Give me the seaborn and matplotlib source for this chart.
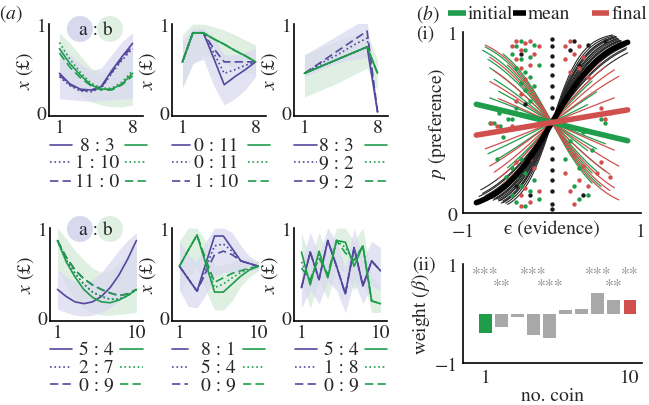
import numpy as np
import matplotlib
matplotlib.use("Agg")
import matplotlib.pyplot as plt
import seaborn as sns
from matplotlib.patches import Circle

# ---------------- data: panel (a) ----------------
x8 = [1, 2, 3, 4, 5, 6, 7, 8]
x10 = [1, 2, 3, 4, 5, 6, 7, 8, 9, 10]

# top-left
a1_p_solid = [0.44, 0.32, 0.26, 0.25, 0.29, 0.47, 0.63, 0.78]
a1_p_dot = [0.40, 0.30, 0.24, 0.23, 0.27, 0.44, 0.59, 0.72]
a1_p_dash = [0.42, 0.31, 0.25, 0.24, 0.28, 0.45, 0.61, 0.75]
a1_g_solid = [0.72, 0.55, 0.42, 0.31, 0.26, 0.26, 0.32, 0.44]
a1_g_dot = [0.79, 0.60, 0.45, 0.33, 0.27, 0.27, 0.34, 0.47]
a1_g_dash = [0.67, 0.51, 0.39, 0.30, 0.25, 0.25, 0.31, 0.41]
a1_p_lo = [0.15, 0.14, 0.13, 0.12, 0.13, 0.14, 0.15, 0.15]
a1_p_hi = [0.75, 0.65, 0.55, 0.47, 0.50, 0.65, 0.80, 0.90]
a1_g_lo = [0.40, 0.30, 0.20, 0.12, 0.08, 0.06, 0.06, 0.08]
a1_g_hi = [0.90, 0.78, 0.64, 0.50, 0.44, 0.50, 0.60, 0.70]

# top-middle
a2_p_solid = [0.57, 0.90, 0.90, 0.61, 0.31, 0.40, 0.48, 0.57]
a2_p_dot = [0.57, 0.90, 0.90, 0.67, 0.44, 0.48, 0.53, 0.57]
a2_p_dash = [0.57, 0.90, 0.90, 0.72, 0.57, 0.57, 0.57, 0.57]
a2_g_solid = [0.57, 0.90, 0.90, 0.83, 0.77, 0.70, 0.64, 0.57]
a2_g_dot = [0.57, 0.90, 0.90, 0.83, 0.77, 0.70, 0.64, 0.57]
a2_g_dash = [0.57, 0.90, 0.90, 0.83, 0.77, 0.70, 0.64, 0.57]
a2_p_lo = [0.28, 0.55, 0.60, 0.30, 0.08, 0.15, 0.25, 0.40]
a2_p_hi = [0.80, 0.95, 0.95, 0.85, 0.65, 0.65, 0.68, 0.72]
a2_g_lo = [0.28, 0.55, 0.65, 0.60, 0.55, 0.50, 0.45, 0.42]
a2_g_hi = [0.88, 1.00, 1.00, 0.97, 0.93, 0.88, 0.82, 0.76]

# top-right
a3_p_solid = [0.44, 0.49, 0.54, 0.59, 0.64, 0.69, 0.74, 0.00]
a3_p_dot = [0.44, 0.51, 0.58, 0.64, 0.71, 0.78, 0.84, 0.00]
a3_p_dash = [0.44, 0.52, 0.60, 0.68, 0.76, 0.84, 0.92, 0.00]
a3_g_solid = [0.44, 0.49, 0.54, 0.59, 0.64, 0.69, 0.74, 0.44]
a3_g_dot = [0.44, 0.49, 0.54, 0.59, 0.64, 0.69, 0.74, 0.44]
a3_g_dash = [0.44, 0.49, 0.54, 0.59, 0.64, 0.69, 0.74, 0.44]
a3_p_lo = [0.40, 0.45, 0.50, 0.55, 0.58, 0.60, 0.62, 0.00]
a3_p_hi = [0.65, 0.72, 0.79, 0.86, 0.93, 1.00, 1.03, 0.04]
a3_g_lo = [0.17, 0.22, 0.27, 0.32, 0.38, 0.44, 0.50, 0.25]
a3_g_hi = [0.65, 0.70, 0.75, 0.80, 0.85, 0.88, 0.90, 0.59]

# bottom-left
b1_p_solid = [0.31, 0.23, 0.17, 0.15, 0.17, 0.23, 0.33, 0.47, 0.65, 0.86]
b1_p_dot = [0.86, 0.64, 0.49, 0.37, 0.28, 0.23, 0.20, 0.20, 0.24, 0.31]
b1_p_dash = [0.86, 0.67, 0.53, 0.43, 0.36, 0.31, 0.27, 0.24, 0.26, 0.31]
b1_g_solid = [0.86, 0.62, 0.45, 0.31, 0.22, 0.17, 0.16, 0.19, 0.24, 0.31]
b1_g_dot = [0.86, 0.64, 0.49, 0.37, 0.28, 0.23, 0.20, 0.20, 0.24, 0.31]
b1_g_dash = [0.86, 0.67, 0.53, 0.43, 0.36, 0.31, 0.27, 0.24, 0.26, 0.31]
b1_p_lo = [0.09, 0.05, 0.02, 0.01, 0.02, 0.05, 0.10, 0.18, 0.26, 0.35]
b1_p_hi = [0.54, 0.45, 0.40, 0.38, 0.42, 0.50, 0.62, 0.75, 0.86, 0.95]
b1_g_lo = [0.55, 0.35, 0.20, 0.10, 0.05, 0.02, 0.02, 0.03, 0.04, 0.05]
b1_g_hi = [1.00, 0.88, 0.75, 0.64, 0.55, 0.50, 0.52, 0.60, 0.70, 0.80]

# bottom-middle
b2_p_solid = [0.57, 0.43, 0.29, 0.60, 0.91, 0.91, 0.77, 0.63, 0.60, 0.57]
b2_p_dot = [0.57, 0.43, 0.29, 0.55, 0.80, 0.82, 0.74, 0.63, 0.60, 0.57]
b2_p_dash = [0.57, 0.43, 0.29, 0.50, 0.70, 0.74, 0.70, 0.63, 0.60, 0.57]
b2_g_solid = [0.57, 0.75, 0.92, 0.60, 0.28, 0.28, 0.37, 0.46, 0.53, 0.57]
b2_g_dot = [0.57, 0.75, 0.92, 0.62, 0.33, 0.37, 0.44, 0.50, 0.54, 0.57]
b2_g_dash = [0.57, 0.75, 0.92, 0.65, 0.39, 0.44, 0.49, 0.52, 0.55, 0.57]
b2_p_lo = [0.30, 0.12, 0.10, 0.25, 0.45, 0.50, 0.50, 0.50, 0.52, 0.53]
b2_p_hi = [0.85, 0.70, 0.62, 0.85, 1.00, 1.00, 0.95, 0.80, 0.68, 0.62]
b2_g_lo = [0.28, 0.45, 0.55, 0.30, 0.08, 0.08, 0.18, 0.35, 0.45, 0.52]
b2_g_hi = [0.85, 1.00, 1.00, 0.85, 0.58, 0.58, 0.62, 0.66, 0.65, 0.62]

# bottom-right
b3_p_solid = [0.33, 0.73, 0.42, 0.86, 0.57, 0.26, 0.78, 0.35, 0.63, 0.52]
b3_p_dot = [0.33, 0.73, 0.42, 0.86, 0.57, 0.26, 0.78, 0.35, 0.63, 0.52]
b3_p_dash = [0.33, 0.73, 0.42, 0.86, 0.57, 0.26, 0.78, 0.35, 0.63, 0.52]
b3_g_solid = [0.73, 0.36, 0.74, 0.44, 0.86, 0.84, 0.57, 0.80, 0.18, 0.15]
b3_g_dot = [0.62, 0.40, 0.70, 0.45, 0.86, 0.78, 0.62, 0.80, 0.18, 0.15]
b3_g_dash = [0.55, 0.42, 0.66, 0.48, 0.86, 0.72, 0.64, 0.80, 0.18, 0.15]
b3_p_lo = [0.10, 0.30, 0.15, 0.40, 0.30, 0.05, 0.40, 0.15, 0.35, 0.30]
b3_p_hi = [0.62, 0.95, 0.70, 1.00, 0.85, 0.55, 1.00, 0.65, 0.85, 0.78]
b3_g_lo = [0.40, 0.10, 0.40, 0.20, 0.55, 0.50, 0.30, 0.45, 0.05, 0.05]
b3_g_hi = [0.95, 0.65, 0.95, 0.70, 1.00, 1.00, 0.85, 1.00, 0.45, 0.35]

top_legends = [["8 : 3", "1 : 10", "11 : 0"],
               ["0 : 11", "0 : 11", "1 : 10"],
               ["8 : 3", "9 : 2", "9 : 2"]]
bottom_legends = [["5 : 4", "2 : 7", "0 : 9"],
                  ["8 : 1", "5 : 4", "0 : 9"],
                  ["5 : 4", "1 : 8", "0 : 9"]]

# ---------------- data: panel (b)(i) ----------------
mean_k = [2.4, 2.7, 3.0, 3.2, 3.4, 3.6, 3.8, 4.0, 4.2, 4.5, 4.8, 5.1, 5.5, 2.8, 3.3, 3.9, 4.4, 5.0, 6.0, 3.5]
mean_e0 = [-0.80, -0.78, -0.75, -0.72, -0.70, -0.68, -0.65, -0.62, -0.60, -0.58, -0.55, -0.55, -0.52, -0.82, -0.76, -0.66, -0.60, -0.57, -0.50, -0.74]
mean_e1 = [0.85, 0.83, 0.82, 0.80, 0.80, 0.78, 0.78, 0.76, 0.75, 0.74, 0.72, 0.72, 0.70, 0.84, 0.82, 0.77, 0.74, 0.72, 0.68, 0.80]
init_k = [-3.2, -2.8, -2.4, -2.0, -1.6, -1.2, -3.6, 1.0, 1.4, 2.2, -0.8]
init_e0 = [-0.75, -0.78, -0.72, -0.70, -0.65, -0.60, -0.55, -0.72, -0.62, -0.50, -0.70]
init_e1 = [0.55, 0.45, 0.50, 0.60, 0.40, 0.50, 0.45, 0.40, 0.50, 0.45, 0.60]
final_k = [-3.4, -2.6, -2.0, -1.4, -0.9, 0.8, 1.5, 2.4, 3.0, -3.0, 1.9]
final_e0 = [-0.75, -0.70, -0.65, -0.70, -0.60, -0.75, -0.70, -0.60, -0.55, -0.50, -0.65]
final_e1 = [0.75, 0.70, 0.65, 0.75, 0.70, 0.70, 0.75, 0.60, 0.55, 0.65, 0.70]
thick_k = {"initial": -0.48, "mean": 3.3, "final": 0.33}

init_e = [-0.45, -0.45, -0.45, -0.45, -0.40, -0.40, -0.40, -0.40, -0.40, -0.35, -0.35, -0.35, -0.35, -0.35,
          -0.30, -0.30, -0.30, -0.30, -0.30, -0.25, -0.25, -0.25, -0.25, -0.20, -0.20, -0.20, -0.20,
          -0.15, -0.15, -0.60, -0.58, -0.55, -0.62, -0.50, -0.65, -0.70, -0.52,
          0.15, 0.20, 0.25, 0.30, 0.35, 0.40, 0.30, 0.45, 0.55, 0.60]
init_p = [0.88, 0.52, 0.25, 0.10, 0.92, 0.80, 0.58, 0.20, 0.06, 0.95, 0.85, 0.72, 0.30, 0.15,
          0.90, 0.78, 0.68, 0.22, 0.04, 0.86, 0.75, 0.62, 0.12, 0.93, 0.70, 0.35, 0.18,
          0.82, 0.08, 0.55, 0.48, 0.42, 0.30, 0.52, 0.50, 0.50, 0.20,
          0.30, 0.40, 0.15, 0.25, 0.45, 0.10, 0.08, 0.35, 0.52, 0.50]
final_e = [-0.45, -0.45, -0.45, -0.40, -0.40, -0.40, -0.40, -0.35, -0.35, -0.35, -0.35, -0.35,
           -0.30, -0.30, -0.30, -0.25, -0.25, -0.25, -0.25, -0.20, -0.20, -0.15, -0.15,
           -0.62, -0.58, -0.68, 0.15, 0.15, 0.15, 0.20, 0.20, 0.20, 0.25, 0.25, 0.25, 0.25,
           0.30, 0.30, 0.30, 0.35, 0.35, 0.40, 0.40, 0.50, 0.55, 0.55, 0.60, 0.65, 0.65]
final_p = [0.92, 0.48, 0.18, 0.95, 0.85, 0.62, 0.28, 0.90, 0.80, 0.66, 0.10, 0.04,
           0.94, 0.74, 0.14, 0.95, 0.82, 0.30, 0.06, 0.88, 0.25, 0.92, 0.12,
           0.48, 0.46, 0.50, 0.92, 0.85, 0.22, 0.95, 0.78, 0.12, 0.88, 0.70, 0.32, 0.05,
           0.92, 0.80, 0.18, 0.86, 0.26, 0.75, 0.15, 0.22, 0.28, 0.58, 0.52, 0.55, 0.20]
mean_e = [0.0, 0.0, 0.0, 0.0, 0.0, 0.0, 0.0, 0.0, 0.0, 0.0, 0.0, 0.0, 0.0, 0.0, 0.0,
          -0.35, -0.30, -0.25, -0.40, 0.20, 0.25, 0.30, 0.35, 0.40, 0.60]
mean_p = [0.96, 0.92, 0.87, 0.82, 0.76, 0.70, 0.64, 0.58, 0.36, 0.30, 0.24, 0.18, 0.12, 0.05, 0.02,
          0.88, 0.60, 0.10, 0.15, 0.90, 0.95, 0.82, 0.10, 0.93, 0.95]

# ---------------- data: panel (b)(ii) ----------------
coins = [1, 2, 3, 4, 5, 6, 7, 8, 9, 10]
weights = [-0.39, -0.27, -0.08, -0.44, -0.50, 0.07, 0.10, 0.42, 0.28, 0.28]
stars_row1 = {1: "***", 4: "***", 8: "***", 10: "**"}
stars_row2 = {2: "**", 5: "***", 9: "**"}

# ---------------- style ----------------
sns.set_theme(style="white")
plt.rcParams["font.family"] = ["STIXGeneral", "Liberation Serif", "DejaVu Serif"]
plt.rcParams["mathtext.fontset"] = "stix"

PURPLE = "#54489e"
GREEN = "#1f9d4b"
RED = "#d0504e"
LP = "#d8d8ef"
LG = "#dff0e3"
GRAY = "#a8a8a8"
FS = 14

W, H = 649, 406
fig = plt.figure(figsize=(W / 100, H / 100), dpi=100)


def box(l, t, r, b):
    return [l / W, 1 - b / H, (r - l) / W, (b - t) / H]


def style_axes(ax):
    for s in ["top", "right"]:
        ax.spines[s].set_visible(False)
    for s in ["left", "bottom"]:
        ax.spines[s].set_color("black")
        ax.spines[s].set_linewidth(1.2)
    ax.set_facecolor("none")


def line_panel(ax, x, plines, glines, pband, gband, xlim, xt):
    ax.fill_between(x, gband[0], gband[1], color=LG, lw=0, zorder=1)
    ax.fill_between(x, pband[0], pband[1], color=LP, alpha=0.7, lw=0, zorder=1)
    for ys, ls in zip(plines, ["-", ":", (0, (5, 2.5))]):
        sns.lineplot(x=x, y=ys, ax=ax, color=PURPLE, lw=1.2, linestyle=ls, zorder=3)
    for ys, ls in zip(glines, ["-", ":", (0, (5, 2.5))]):
        sns.lineplot(x=x, y=ys, ax=ax, color=GREEN, lw=1.2, linestyle=ls, zorder=3)
    ax.set_xlim(*xlim)
    ax.set_ylim(-0.045, 1.0)
    ax.set_xticks(xt)
    ax.set_xticklabels([str(v) for v in xt], fontsize=FS)
    ax.set_yticks([0, 1])
    ax.set_yticklabels(["0", "1"], fontsize=FS)
    ax.tick_params(length=0, pad=2)
    ax.set_ylabel("$x$ (£)", fontsize=FS, labelpad=1)
    ax.set_xlabel("")
    style_axes(ax)


top_boxes = [box(49, 25, 143, 117), box(172, 25, 266, 117), box(294, 25, 388, 117)]
bot_boxes = [box(50, 229, 143, 322), box(172, 229, 265, 322), box(294, 229, 387, 322)]

top_data = [
    ([a1_p_solid, a1_p_dot, a1_p_dash], [a1_g_solid, a1_g_dot, a1_g_dash], (a1_p_lo, a1_p_hi), (a1_g_lo, a1_g_hi)),
    ([a2_p_solid, a2_p_dot, a2_p_dash], [a2_g_solid, a2_g_dot, a2_g_dash], (a2_p_lo, a2_p_hi), (a2_g_lo, a2_g_hi)),
    ([a3_p_solid, a3_p_dot, a3_p_dash], [a3_g_solid, a3_g_dot, a3_g_dash], (a3_p_lo, a3_p_hi), (a3_g_lo, a3_g_hi)),
]
bot_data = [
    ([b1_p_solid, b1_p_dot, b1_p_dash], [b1_g_solid, b1_g_dot, b1_g_dash], (b1_p_lo, b1_p_hi), (b1_g_lo, b1_g_hi)),
    ([b2_p_solid, b2_p_dot, b2_p_dash], [b2_g_solid, b2_g_dot, b2_g_dash], (b2_p_lo, b2_p_hi), (b2_g_lo, b2_g_hi)),
    ([b3_p_solid, b3_p_dot, b3_p_dash], [b3_g_solid, b3_g_dot, b3_g_dash], (b3_p_lo, b3_p_hi), (b3_g_lo, b3_g_hi)),
]

for bx, d in zip(top_boxes, top_data):
    ax = fig.add_axes(bx)
    line_panel(ax, x8, d[0], d[1], d[2], d[3], (0, 9), [1, 8])
for bx, d in zip(bot_boxes, bot_data):
    ax = fig.add_axes(bx)
    line_panel(ax, x10, d[0], d[1], d[2], d[3], (0.15, 10.75), [1, 10])

# ---------------- (b)(i) ----------------
axb = fig.add_axes(box(463, 33, 641, 214))


def logistic(k, e):
    e = np.asarray(e)
    return 1.0 / (1.0 + np.exp(-k * e))


for k, e0, e1 in zip(mean_k, mean_e0, mean_e1):
    e = np.linspace(e0, e1, 60)
    sns.lineplot(x=e, y=logistic(k, e), ax=axb, color="#262626", lw=0.8, zorder=2)
for k, e0, e1 in zip(init_k, init_e0, init_e1):
    e = np.linspace(e0, e1, 60)
    sns.lineplot(x=e, y=logistic(k, e), ax=axb, color=GREEN, lw=0.9, zorder=2)
for k, e0, e1 in zip(final_k, final_e0, final_e1):
    e = np.linspace(e0, e1, 60)
    sns.lineplot(x=e, y=logistic(k, e), ax=axb, color=RED, lw=0.9, zorder=2)

sns.scatterplot(x=mean_e, y=mean_p, ax=axb, color="#1a1a1a", s=10, linewidth=0, zorder=3)
sns.scatterplot(x=init_e, y=init_p, ax=axb, color=GREEN, s=10, linewidth=0, zorder=3)
sns.scatterplot(x=final_e, y=final_p, ax=axb, color=RED, s=10, linewidth=0, zorder=3)

ethick = np.linspace(-0.85, 0.85, 100)
sns.lineplot(x=ethick, y=logistic(thick_k["mean"], ethick), ax=axb, color="black", lw=4.0, zorder=4)
sns.lineplot(x=ethick, y=logistic(thick_k["initial"], ethick), ax=axb, color=GREEN, lw=4.0, zorder=5)
sns.lineplot(x=ethick, y=logistic(thick_k["final"], ethick), ax=axb, color=RED, lw=4.0, zorder=5)

axb.set_xlim(-1, 1)
axb.set_ylim(0, 1)
axb.set_xticks([-1, -0.5, 0, 0.5, 1])
axb.set_xticklabels(["\u22121", "", "", "", "1"], fontsize=FS)
axb.set_yticks([0, 0.2, 0.4, 0.6, 0.8, 1])
axb.set_yticklabels(["0", "", "", "", "", "1"], fontsize=FS)
axb.tick_params(axis="y", direction="in", length=3, width=0.8, color="black", pad=4)
axb.tick_params(axis="x", direction="in", length=3, width=0.8, color="black", pad=7)
axb.set_xlabel("\u03f5 (evidence)", fontsize=FS, labelpad=-14)
axb.set_ylabel("$p$ (preference)", fontsize=FS, labelpad=0)
style_axes(axb)

# ---------------- (b)(ii) ----------------
axw = fig.add_axes(box(463, 265, 642, 364))
bar_colors = [GREEN] + [GRAY] * 8 + [RED]
sns.barplot(x=coins, y=weights, hue=coins, palette=bar_colors, native_scale=True,
            legend=False, ax=axw, linewidth=0, width=0.8, saturation=1)
for c, s in stars_row1.items():
    axw.text(c, 0.80, s, ha="center", va="center", color="#8a8a8a", fontsize=13)
for c, s in stars_row2.items():
    axw.text(c, 0.55, s, ha="center", va="center", color="#8a8a8a", fontsize=13)
axw.set_xlim(-0.4, 10.75)
axw.set_ylim(-1, 1)
axw.set_yticks([-1, -0.5, 0, 0.5, 1])
axw.set_yticklabels(["\u22121", "", "", "", "1"], fontsize=FS)
axw.set_xticks([1, 10])
axw.set_xticklabels(["1", "10"], fontsize=FS)
axw.tick_params(axis="y", direction="in", length=3, width=0.8, color="black", pad=4)
axw.tick_params(axis="x", length=0, pad=4)
axw.set_xlabel("no. coin", fontsize=FS, labelpad=1)
axw.set_ylabel("weight ($\\beta$)", fontsize=FS, labelpad=2)
style_axes(axw)

# ---------------- overlay: labels, legends, circles ----------------
ov = fig.add_axes([0, 0, 1, 1], zorder=10)
ov.set_xlim(0, W)
ov.set_ylim(H, 0)
ov.axis("off")
ov.patch.set_visible(False)

ov.text(11, 14, "($a$)", fontsize=FS, ha="center", va="center")
ov.text(428, 14, "($b$)", fontsize=FS, ha="center", va="center")
ov.text(425, 34, "(i)", fontsize=FS, ha="center", va="center")
ov.text(424, 265, "(ii)", fontsize=FS, ha="center", va="center")

for cy in (30, 230):
    ov.add_patch(Circle((80, cy), 13, color=LP, lw=0))
    ov.add_patch(Circle((110, cy), 13, color=LG, lw=0))
    ov.text(96, cy, "a : b", fontsize=FS, ha="center", va="center")

# (b) legend
ov.plot([448, 466], [14, 14], color=GREEN, lw=4, solid_capstyle="butt")
ov.text(468, 14, "initial", fontsize=FS, ha="left", va="center")
ov.plot([513, 526], [14, 14], color="black", lw=4, solid_capstyle="butt")
ov.text(528, 14, "mean", fontsize=FS, ha="left", va="center")
ov.plot([592, 609], [14, 14], color=RED, lw=4, solid_capstyle="butt")
ov.text(612, 14, "final", fontsize=FS, ha="left", va="center")

styles = ["-", ":", (0, (5, 2.5))]
top_leg_pos = [((50, 72), 97, (125, 147)), ((172, 190), 216, (248, 270)), ((294, 317), 336, (365, 387))]
bot_leg_pos = [((50, 72), 96, (120, 143)), ((172, 188), 218, (243, 265)), ((295, 317), 341, (365, 387))]
for legs, pos, rows in ((top_legends, top_leg_pos, [146, 163, 182]),
                        (bottom_legends, bot_leg_pos, [350, 368, 385])):
    for labels, (pseg, tx, gseg) in zip(legs, pos):
        for lab, ry, ls in zip(labels, rows, styles):
            ov.plot(pseg, [ry, ry], color=PURPLE, lw=1.2, linestyle=ls)
            ov.text(tx, ry, lab, fontsize=FS, ha="center", va="center")
            ov.plot(gseg, [ry, ry], color=GREEN, lw=1.2, linestyle=ls)

fig.savefig("out.png", dpi=100)
